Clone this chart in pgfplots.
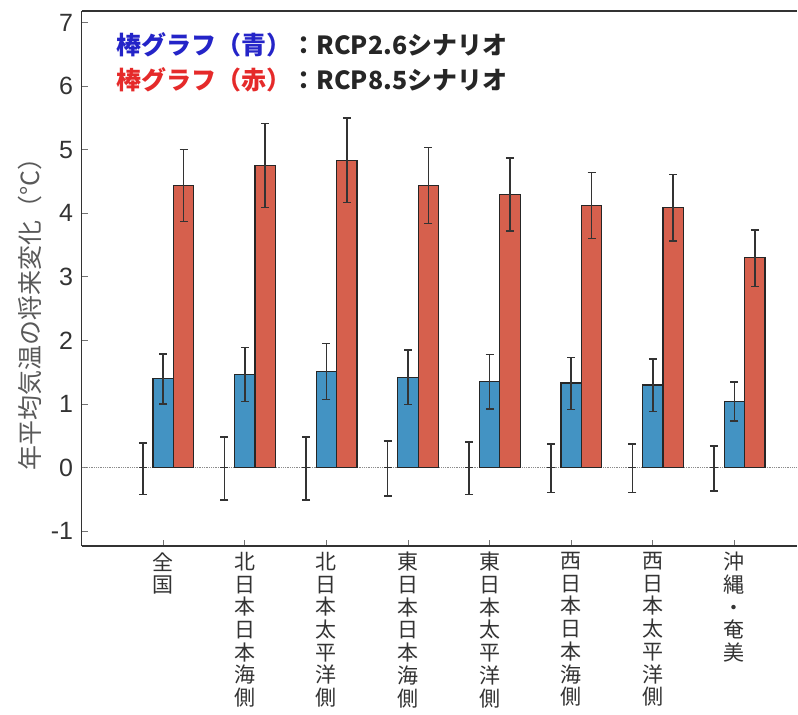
\documentclass[border=0pt]{standalone}
\usepackage{pgfplots}
\pgfplotsset{compat=1.18}
\usepackage{pgfplotstable}
\usepackage{fontspec}
\setmainfont{Liberation Sans}
\newfontfamily\jp{Noto Sans CJK JP}
\definecolor{barblue}{HTML}{4393C3}
\definecolor{barred}{HTML}{D6604D}
\definecolor{txtblue}{HTML}{2424C8}
\definecolor{txtred}{HTML}{E52A2A}
\definecolor{txtdark}{HTML}{262626}

\pgfplotstableread{
x y ep em
0 0 0.39 0.42
1 0 0.48 0.51
2 0 0.48 0.51
3 0 0.42 0.45
4 0 0.40 0.42
5 0 0.37 0.39
6 0 0.37 0.39
7 0 0.34 0.37
}\zerodata
\pgfplotstableread{
x y ep em
0 1.40 0.39 0.40
1 1.47 0.42 0.43
2 1.51 0.44 0.44
3 1.42 0.43 0.43
4 1.35 0.43 0.43
5 1.33 0.40 0.42
6 1.30 0.41 0.42
7 1.04 0.31 0.31
}\bluedata
\pgfplotstableread{
x y ep em
0 4.44 0.56 0.57
1 4.75 0.66 0.66
2 4.83 0.67 0.66
3 4.44 0.59 0.60
4 4.29 0.58 0.57
5 4.12 0.52 0.52
6 4.09 0.52 0.53
7 3.30 0.44 0.45
}\reddata

\begin{document}
\begin{tikzpicture}
\begin{axis}[
  name=ax,
  scale only axis,
  width=716.3pt, height=535.7pt,
  xmin=-1, xmax=7.77,
  ymin=-1.235, ymax=7.18,
  axis x line*=box,
  axis y line*=left,
  axis line style={line width=1.6pt, color=black!80},
  xtick={0,1,2,3,4,5,6,7},
  xtick pos=lower,
  xticklabels={{全\\国},{北\\日\\本\\日\\本\\海\\側},{北\\日\\本\\太\\平\\洋\\側},{東\\日\\本\\日\\本\\海\\側},{東\\日\\本\\太\\平\\洋\\側},{西\\日\\本\\日\\本\\海\\側},{西\\日\\本\\太\\平\\洋\\側},{沖\\縄\\・\\奄\\美}},
  xticklabel style={align=center, anchor=north, inner sep=0pt, yshift=-6pt, font=\jp\fontsize{21}{22.7}\selectfont, text=black!80},
  ytick={-1,0,1,2,3,4,5,6,7},
  yticklabel style={font=\fontsize{25}{28}\selectfont, text=black!80, xshift=-5pt},
  /pgf/number format/assume math mode=true,
  tick style={color=black!55, line width=0.8pt},
  major tick length=6pt,
  ylabel={年平均気温の将来変化（°C）},
  every axis y label/.style={at={(rel axis cs:0,0.4456)}, xshift=-51.7pt, rotate=90, anchor=center, font=\jp\fontsize{25}{28}\selectfont, text=black!65},
  clip=false,
]
\addplot[densely dotted, color=black!45, line width=0.8pt] coordinates {(-1,0) (7.77,0)};
\addplot[only marks, mark=-, mark size=4pt, mark options={line width=1.5pt, color=black!80},
  error bars/.cd, y dir=both, y explicit,
  error bar style={line width=1.5pt, color=black!80},
  error mark options={rotate=90, mark size=4pt, line width=1.5pt, color=black!80}]
  table[x expr=\thisrow{x}-0.25, y=y, y error plus=ep, y error minus=em] {\zerodata};
\addplot[ybar, bar width=20.4pt, bar shift=0pt, fill=barblue, draw=black!85, line width=1.2pt,
  error bars/.cd, y dir=both, y explicit,
  error bar style={line width=1.5pt, color=black!80},
  error mark options={rotate=90, mark size=4pt, line width=1.5pt, color=black!80}]
  table[x=x, y=y, y error plus=ep, y error minus=em] {\bluedata};
\addplot[ybar, bar width=20.4pt, bar shift=0pt, fill=barred, draw=black!85, line width=1.2pt,
  error bars/.cd, y dir=both, y explicit,
  error bar style={line width=1.5pt, color=black!80},
  error mark options={rotate=90, mark size=4pt, line width=1.5pt, color=black!80}]
  table[x expr=\thisrow{x}+0.25, y=y, y error plus=ep, y error minus=em] {\reddata};
\node[anchor=west, inner sep=0pt, font=\jp\bfseries\fontsize{25}{28}\selectfont] at (rel axis cs:0,1) [xshift=35pt, yshift=-34pt]
  {\textcolor{txtblue}{棒グラフ（青）}\textcolor{txtdark}{：RCP2.6シナリオ}};
\node[anchor=west, inner sep=0pt, font=\jp\bfseries\fontsize{25}{28}\selectfont] at (rel axis cs:0,1) [xshift=35pt, yshift=-69pt]
  {\textcolor{txtred}{棒グラフ（赤）}\textcolor{txtdark}{：RCP8.5シナリオ}};
\end{axis}
\path[use as bounding box] (ax.south west) ++(-81.7pt,-168.3pt) rectangle ++(798pt,715pt);
\end{tikzpicture}
\end{document}
